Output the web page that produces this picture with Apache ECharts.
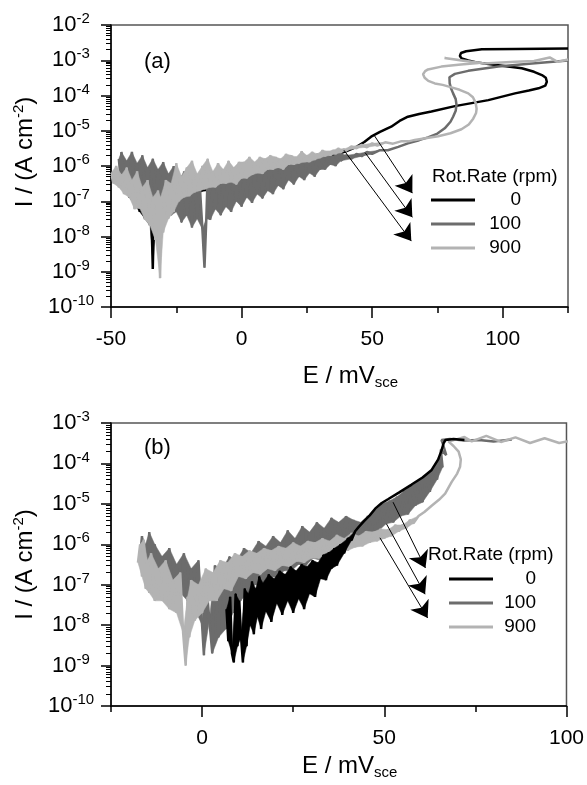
<!DOCTYPE html>
<html><head><meta charset="utf-8">
<script src="https://cdn.jsdelivr.net/npm/echarts@6/dist/echarts.min.js"></script>
<style>html,body{margin:0;padding:0;background:#fff}#c{width:587px;height:785px}</style>
</head><body><div id="c"></div>
<script>
const FONT = "'Liberation Sans', Arial, Helvetica, sans-serif";

// ---------- tick labels ----------
const xLabelTicksA = [-50, 0, 50, 100];
const xMinorTicksA = [-25, 25, 75, 125];
const xLabelTicksB = [0, 50, 100];
const xMinorTicksB = [-25, 25, 75];
const yExpLabelsA = ['-10','-9','-8','-7','-6','-5','-4','-3','-2'];
const yExpLabelsB = ['-10','-9','-8','-7','-6','-5','-4','-3'];
const rotRates = ['0', '100', '900'];
const legendTitle = 'Rot.Rate (rpm)';

// ---------- panel (a) : [E mV, I A/cm2] ----------
const a_rpm0 = [[-46,5e-7],[-45,2.5e-7],[-44,4e-7],[-43,1.3e-7],[-42,3.2e-7],[-41,8e-8],[-40,2.5e-7],[-39,5e-8],[-38,1.6e-7],[-37,3.2e-8],[-36,1.3e-7],[-35,2e-8],[-34.5,1e-7],[-34,1.2e-9],[-33.5,6.3e-8],[-33,2.5e-8],[-32,1.3e-7],[-31,4e-8],[-30,1.6e-7],[-29,6.3e-8],[-28,2e-7],[-26,1e-7],[-24,2.5e-7],[-22,1.3e-7],[-20,3.2e-7],[-18,1.6e-7],[-16,3.5e-7],[-14,2e-7],[-12,4e-7],[-10,2.5e-7],[-8,4.5e-7],[-6,3.2e-7],[-4,5e-7],[-2,3.5e-7],[0,6.3e-7],[2,4.5e-7],[4,7e-7],[6,5e-7],[8,8e-7],[10,6.3e-7],[12,9.5e-7],[14,7.6e-7],[16,1.07e-6],[18,9e-7],[20,1.2e-6],[22,1.05e-6],[24,1.4e-6],[26,1.26e-6],[28,1.6e-6],[30,1.6e-6],[33,1.9e-6],[36,2.1e-6],[40,2.6e-6],[44,3.5e-6],[47,4.8e-6],[49.6,6.8e-6],[53,9.3e-6],[57.3,1.3e-5],[60.5,1.9e-5],[63.7,2.5e-5],[68,3e-5],[72.7,3.5e-5],[81.7,5e-5],[94.5,7.4e-5],[104.7,1.15e-4],[110,1.38e-4],[113.7,1.6e-4],[116.3,1.9e-4],[116.9,2.45e-4],[116.5,3.2e-4],[115,3.8e-4],[112,4.7e-4],[107.3,5.9e-4],[94.5,7.8e-4],[90,8.7e-4],[86.8,9.8e-4],[84.3,1.12e-3],[83.6,1.32e-3],[84,1.6e-3],[86,1.8e-3],[92,2.04e-3],[105,2.1e-3],[125,2.14e-3]];

const a_rpm100 = [[-47,1.6e-6],[-46.5,6.3e-7],[-46,2.5e-6],[-45,5e-7],[-44,1.4e-6],[-43,4e-7],[-42,2.5e-6],[-41,3.2e-7],[-40,1.2e-6],[-39,2.5e-7],[-38,2e-6],[-37,1.8e-7],[-36,9e-7],[-35,1.4e-7],[-34,1.6e-6],[-33,1e-7],[-32,8e-7],[-31,6e-8],[-30,1.3e-6],[-29,6.3e-8],[-28,6e-7],[-27,4e-8],[-26,1e-6],[-25,5e-8],[-24,4e-7],[-23,2.5e-8],[-22,7e-7],[-21,4e-8],[-20,3.2e-7],[-19,1.8e-8],[-18,6e-7],[-17,3.2e-8],[-16,2.8e-7],[-15,1.6e-8],[-14.2,1.3e-9],[-13.5,3.2e-8],[-13,5e-7],[-12,3e-8],[-11,3.2e-7],[-10,6e-8],[-9,6e-7],[-8,4e-8],[-7,4e-7],[-6,7e-8],[-5,7e-7],[-4,5e-8],[-3,5e-7],[-2,1e-7],[-1,8e-7],[0,7e-8],[1,5.6e-7],[2,1.3e-7],[3,1e-6],[4,9e-8],[5,6.3e-7],[6,1.6e-7],[7,1.1e-6],[8,1.2e-7],[9,8e-7],[10,2e-7],[11,1.4e-6],[12,1.6e-7],[13,1e-6],[14,2.8e-7],[15,1.5e-6],[16,2.2e-7],[17,1.1e-6],[18,4e-7],[19,1.6e-6],[20,3e-7],[21,1.3e-6],[22,5e-7],[23,1.4e-6],[24,4e-7],[25,1.9e-6],[26,6.3e-7],[27,1.6e-6],[28,5e-7],[29,2.2e-6],[30,8e-7],[31,1.8e-6],[32,8e-7],[33,2.4e-6],[34,1.1e-6],[35,1.9e-6],[36,1e-6],[37,2.5e-6],[38,1.4e-6],[40,2e-6],[42,1.6e-6],[44,2.2e-6],[46,1.9e-6],[48,2.5e-6],[50,2.2e-6],[53,2.8e-6],[56,2.8e-6],[60,3.5e-6],[63.7,4.4e-6],[68,5.4e-6],[71.4,6.5e-6],[75,8.3e-6],[77.8,1.17e-5],[80,1.8e-5],[81,2.5e-5],[82,3.7e-5],[82.3,5.4e-5],[82,7.9e-5],[81,1.15e-4],[80.2,1.6e-4],[79.7,2.2e-4],[79.6,3.3e-4],[81.7,4.1e-4],[86.8,5e-4],[98.3,6.6e-4],[111.2,8.1e-4],[125,9.8e-4]];

const a_rpm900 = [[-50,6.3e-7],[-49,3.2e-7],[-48,1e-6],[-47,2.5e-7],[-46,5.6e-7],[-45,1.6e-7],[-44,9e-7],[-43,1.3e-7],[-42,4e-7],[-41,6e-8],[-40,7e-7],[-39,6.3e-8],[-38,2.5e-7],[-37,3e-8],[-36,4e-7],[-35,2e-8],[-34,1.3e-7],[-33,8e-9],[-32,2e-7],[-31.2,6.6e-10],[-31,1.3e-7],[-30,1.3e-8],[-29,4e-7],[-28,3.2e-8],[-27,3.2e-7],[-26,5e-8],[-25,1.2e-6],[-24,1e-7],[-23,5e-7],[-22,1.3e-7],[-21,9e-7],[-20,1.4e-7],[-19,1.4e-6],[-18,1.8e-7],[-17,6e-7],[-16,2e-7],[-15,1e-6],[-14,2.2e-7],[-13,1.6e-6],[-12,2.5e-7],[-11,7e-7],[-10,2.5e-7],[-9,1.2e-6],[-8,3.2e-7],[-7,8e-7],[-6,3.2e-7],[-5,1.4e-6],[-4,3.5e-7],[-3,9e-7],[-2,3e-7],[-1,1.3e-6],[0,4.5e-7],[1,1.3e-6],[2,4.5e-7],[3,1.8e-6],[4,5.6e-7],[5,1.3e-6],[6,6.3e-7],[7,1.8e-6],[8,6e-7],[9,1.6e-6],[10,8e-7],[11,2e-6],[12,8e-7],[13,1.8e-6],[14,9e-7],[15,1.6e-6],[16,8e-7],[17,2.2e-6],[18,1.1e-6],[19,2e-6],[20,1.1e-6],[21,1.8e-6],[22,1.2e-6],[23,2.6e-6],[24,1.3e-6],[25,2e-6],[26,1.3e-6],[27,2.5e-6],[28,1.5e-6],[29,2.2e-6],[30,1.7e-6],[31,2.8e-6],[32,1.9e-6],[33,2.6e-6],[34,2e-6],[35,2.8e-6],[36,2.2e-6],[37,3.2e-6],[38,2.4e-6],[39,3e-6],[40,2.7e-6],[42,3.6e-6],[44,3.2e-6],[46,4e-6],[48,3.4e-6],[50,4.4e-6],[52,3.8e-6],[55,4.7e-6],[58,4.3e-6],[61,5e-6],[64,5e-6],[66.3,5.5e-6],[71,6.2e-6],[75.3,7e-6],[80,8.5e-6],[84.2,1.1e-5],[87,1.5e-5],[88.7,2.2e-5],[89.8,3.2e-5],[90,4.2e-5],[89.6,6.3e-5],[88.6,8.9e-5],[86.8,1.15e-4],[83.5,1.45e-4],[80.4,1.7e-4],[77,2e-4],[74,2.2e-4],[71.5,2.6e-4],[70.1,3.2e-4],[69.5,4e-4],[70.3,4.9e-4],[71.4,5.5e-4],[76.5,6.6e-4],[84,7.6e-4],[90.8,8.3e-4],[77.7,1.15e-3],[93,8.1e-4],[104.7,9.1e-4],[112,9.5e-4],[118,1.2e-3],[121,9e-4],[125,1.05e-3]];

const a_arrows = [
  [[50.8, 7.4e-6], [65.4, 1.7e-7]],
  [[47.3, 2.4e-6], [65.4, 3.5e-8]],
  [[39.2, 2.8e-6], [65.0, 7.4e-9]]
];

// ---------- panel (b) ----------
const b_rpm0 = [[6.7,2.5e-8],[7.2,4e-9],[7.7,5e-8],[8.2,2e-9],[8.7,1.2e-9],[9.2,6e-8],[9.7,3e-9],[10.2,4e-8],[10.7,5e-9],[11.2,1.2e-9],[11.7,8e-8],[12.2,3e-9],[12.7,6e-8],[13.2,1e-8],[13.7,1.2e-7],[14.2,6e-9],[14.7,8e-8],[15.2,1.6e-8],[15.7,1.6e-7],[16.2,8e-9],[16.7,1.1e-7],[17.5,2.2e-8],[18.3,1.8e-7],[19,1.2e-8],[19.8,1.4e-7],[20.5,3.5e-8],[21.3,2.2e-7],[22,1.8e-8],[22.8,1.8e-7],[23.5,4e-8],[24.3,2.8e-7],[25,2e-8],[25.8,2.2e-7],[26.5,4.5e-8],[27.3,3.2e-7],[28,2.5e-8],[28.8,2.8e-7],[29.5,6e-8],[30.3,4e-7],[31,5e-8],[31.8,3.5e-7],[32.5,1.4e-7],[33.3,5.5e-7],[34,1.3e-7],[34.8,6.3e-7],[35.5,2.5e-7],[36.3,8e-7],[37,3e-7],[38,1e-6],[39,6e-7],[40,1.4e-6],[41,1.26e-6],[42,2.1e-6],[43,2.7e-6],[44.5,3.8e-6],[46,5.2e-6],[47.5,7.6e-6],[49.3,1.05e-5],[51,1.3e-5],[54,1.9e-5],[57.5,3e-5],[60.5,4.5e-5],[63,6.9e-5],[64.8,1.26e-4],[65.7,2.1e-4],[66.3,3.2e-4],[66.8,3.8e-4],[69,4e-4],[72,3.8e-4]];

const b_rpm100 = [[-17,5e-7],[-16.5,1.6e-6],[-16,2.5e-7],[-15.5,1e-6],[-15,2e-7],[-14.5,2e-6],[-14,1.6e-7],[-13,1e-6],[-12,1.3e-7],[-11,5e-7],[-10,1e-7],[-9,8e-7],[-8,6e-8],[-7,3.2e-7],[-6,6.3e-8],[-5,6e-7],[-4,4e-8],[-3,2.5e-7],[-2,2.5e-8],[-1,4e-7],[0,1e-8],[0.5,1.8e-9],[1,1.6e-7],[2,1.3e-8],[2.8,2e-9],[3.5,3e-7],[4.5,5e-9],[5.5,2.5e-7],[6.5,8e-9],[7.5,5e-7],[8.5,2e-8],[9.5,4e-7],[10.5,4e-8],[11.5,8e-7],[12.5,6e-8],[13.5,6.3e-7],[14.5,1e-7],[15.5,1.2e-6],[16.5,1e-7],[17.5,9e-7],[18.5,1.6e-7],[19.5,1.6e-6],[20.5,1.5e-7],[21.5,1.1e-6],[22.5,2.2e-7],[23.5,2.2e-6],[24.5,2.2e-7],[25.5,1.4e-6],[26.5,3.2e-7],[27.5,2.8e-6],[28.5,3e-7],[29.5,2e-6],[30.5,4.5e-7],[31.5,3.5e-6],[32.5,4e-7],[33.5,2.5e-6],[34.5,6.3e-7],[35.5,4.5e-6],[36.5,6e-7],[37.5,3.5e-6],[38.5,8e-7],[39.5,5e-6],[40.5,9e-7],[41.5,4e-6],[42.5,1.3e-6],[43.5,3.5e-6],[44.5,1.4e-6],[45.5,5e-6],[46.5,2e-6],[47.5,7e-6],[48.5,2.2e-6],[49.5,1e-5],[50.5,3.2e-6],[51.5,1.2e-5],[52.5,3.5e-6],[53.5,1.5e-5],[54.5,5e-6],[55.5,2.1e-5],[56.5,5.5e-6],[57.5,2.8e-5],[58.5,9e-6],[59.5,3.8e-5],[60.5,1.1e-5],[61.5,5e-5],[62.5,2e-5],[63.5,7.5e-5],[64.5,4e-5],[65,1.4e-4],[66,8e-5],[65.5,2.2e-4],[67,1.6e-4],[66,3.2e-4],[65.7,3.8e-4],[68,4e-4],[72,3.7e-4],[76,3.8e-4],[80,3.5e-4],[85,3.9e-4]];

const b_rpm900 = [[-17.6,3.5e-7],[-17,1e-6],[-16.5,1.6e-7],[-16,1.3e-6],[-15.5,8e-8],[-15,4e-7],[-14.5,6.3e-8],[-14,6e-7],[-13,4e-8],[-12,2.5e-7],[-11,4e-8],[-10,4e-7],[-9,2.5e-8],[-8,1.3e-7],[-7,2e-8],[-6,2e-7],[-5.2,6.3e-9],[-4.5,1e-9],[-4,5e-8],[-3.5,5e-9],[-3,1.3e-7],[-2,1.3e-8],[-1,1e-7],[0,2e-8],[1,2.5e-7],[2,4e-8],[3,2e-7],[4,4e-8],[5,4e-7],[6,8e-8],[7,3.5e-7],[8,7e-8],[9,6e-7],[10,1.6e-7],[11,5e-7],[12,1.4e-7],[13,7e-7],[14,2e-7],[15,6e-7],[16,1.8e-7],[17,8e-7],[18,2.5e-7],[19,7e-7],[20,2.2e-7],[21,9e-7],[22,3e-7],[23,8e-7],[24,2.8e-7],[25,1.1e-6],[26,3.8e-7],[27,9e-7],[28,3.5e-7],[29,1.2e-6],[30,4.5e-7],[31,1.1e-6],[32,4.5e-7],[33,1.4e-6],[34,5.6e-7],[35,1.2e-6],[36,5.6e-7],[37,1.7e-6],[38,6.5e-7],[39,1.4e-6],[40,7e-7],[41,1.9e-6],[42,8.5e-7],[43,1.6e-6],[44,9e-7],[45,2.1e-6],[46,1.1e-6],[47,2e-6],[48,1.2e-6],[49,2.4e-6],[50,1.4e-6],[51,2.3e-6],[52,1.6e-6],[53,3e-6],[54,2.1e-6],[55,3e-6],[56,2.5e-6],[57,4e-6],[58,3.3e-6],[59.4,5e-6],[61,6.3e-6],[63,9e-6],[65,1.26e-5],[66.7,1.8e-5],[68.5,3.5e-5],[70,5.6e-5],[70.8,8.3e-5],[71,1.26e-4],[70.4,1.95e-4],[69,2.7e-4],[67.6,3.5e-4],[70,4e-4],[72,4.5e-4],[74,3.5e-4],[78,4.8e-4],[82,3.4e-4],[86,4.4e-4],[90,3.2e-4],[94,4.2e-4],[98,3.2e-4],[101,3.6e-4]];

const b_arrows = [
  [[52.4, 1.1e-5], [61.3, 2.6e-7]],
  [[50.6, 3.2e-6], [61.2, 5.8e-8]],
  [[48.8, 1.45e-6], [61.9, 1.5e-8]]
];

// ---------- styling ----------
const COLORS = ['#000000', '#6c6c6c', '#b3b3b3'];
const Z_A = [3, 4, 5];   // panel (a): 0 rpm at the back
const Z_B = [6, 3, 4];   // panel (b): 0 rpm in front
const GRIDS = [
  {left: 111, top: 25, width: 457, height: 282},
  {left: 111, top: 423, width: 457, height: 283}
];
const chart = echarts.init(document.getElementById('c'), null, {renderer: 'canvas'});
const tickLine = {color: '#000', width: 1.5};

function yLabelFormatter(labels) {
  return function (v) {
    const e = Math.round(Math.log10(v));
    const lab = labels.find(s => Number(s) === e);
    return lab === undefined ? '' : '{b|10}{s|' + lab + '}';
  };
}
const yLabelRich = {
  b: {fontSize: 22, fontFamily: FONT, color: '#000'},
  s: {fontSize: 15, fontFamily: FONT, color: '#000', padding: [0, 0, 12, 0]}
};
const xNameRich = {
  m: {fontSize: 24, fontFamily: FONT, color: '#000'},
  s: {fontSize: 15, fontFamily: FONT, color: '#000', padding: [12, 0, 0, 0]}
};
const yNameRich = {
  m: {fontSize: 24, fontFamily: FONT, color: '#000'},
  s: {fontSize: 15, fontFamily: FONT, color: '#000', padding: [0, 0, 12, 0]}
};

function mainX(grid, min, max, labels, gap) {
  return {
    type: 'value', gridIndex: grid, position: 'bottom', min: min, max: max,
    axisLine: {show: true, onZero: false, lineStyle: tickLine},
    axisTick: {show: true, customValues: labels, length: 11, lineStyle: tickLine},
    axisLabel: {show: true, customValues: labels, margin: 22, fontSize: 21, fontFamily: FONT, color: '#000'},
    splitLine: {show: false},
    name: '{m|E / mV}{s|sce}', nameLocation: 'middle', nameGap: gap,
    nameTextStyle: {rich: xNameRich, padding: [0, 0, 0, 22]}
  };
}
function mainY(grid, min, max, labels, padShift) {
  return {
    type: 'log', logBase: 10, gridIndex: grid, position: 'left', min: min, max: max,
    axisLine: {show: true, onZero: false, lineStyle: tickLine},
    axisTick: {show: true, length: 10, lineStyle: tickLine},
    minorTick: {show: true, splitNumber: 9, length: 5, lineStyle: {color: '#000', width: 1}},
    axisLabel: {show: true, formatter: yLabelFormatter(labels), rich: yLabelRich, align: 'center', margin: 40,
                showMinLabel: true, showMaxLabel: true},
    splitLine: {show: false},
    name: '{m|I / (A cm}{s|-2}{m|)}', nameLocation: 'middle', nameRotate: 90, nameGap: 72,
    nameTextStyle: {rich: yNameRich, padding: [0, 0, 0, padShift]}
  };
}

function curve(name, data, ai, color, z) {
  return {
    type: 'line', name: name, data: data, xAxisIndex: ai, yAxisIndex: ai,
    showSymbol: false, symbol: 'none', smooth: false, animation: false,
    lineStyle: {color: color, width: 2.5}, itemStyle: {color: color}, z: z
  };
}
// fills the gaps between successive zig-zag samples of a noisy scan (solid noise band)
function band(name, data, ai, color, z) {
  return {
    type: 'custom', name: name, data: data, xAxisIndex: ai, yAxisIndex: ai,
    encode: {x: 0, y: 1}, z: z, silent: true, animation: false, clip: true,
    renderItem: function (params, api) {
      const i = params.dataIndex;
      if (i + 2 >= data.length) return null;
      const p0 = data[i], p1 = data[i + 1], p2 = data[i + 2];
      if (!(p0[0] < p1[0] && p1[0] < p2[0]) || p2[0] - p0[0] > 5) return null;
      const l0 = Math.log10(p0[1]), l1 = Math.log10(p1[1]), l2 = Math.log10(p2[1]);
      if ((l1 - l0) * (l1 - l2) <= 0) return null;
      return {type: 'polygon', shape: {points: [api.coord(p0), api.coord(p1), api.coord(p2)]},
              style: {fill: color, stroke: color, lineWidth: 0.5}};
    }
  };
}
function arrows(data, ai) {
  return {
    type: 'lines', coordinateSystem: 'cartesian2d', xAxisIndex: ai, yAxisIndex: ai,
    data: data.map(p => ({coords: p})), symbol: ['none', 'arrow'], symbolSize: [9, 16],
    lineStyle: {color: '#000', width: 1, opacity: 1}, itemStyle: {color: '#000'},
    animation: false, silent: true, z: 10
  };
}
// short unlabeled ticks (log-spaced on y), drawn through the axes' scales
function tickLines(ai, xMin, xMax, loExp, hiExp, xMinor) {
  const g = GRIDS[ai];
  const dx = 5 * (xMax - xMin) / g.width;
  const dyFactor = Math.pow(10, 6 * (hiExp - loExp) / g.height);
  const yMin = Math.pow(10, loExp);
  const segs = [];
  for (let n = loExp; n < hiExp; n++) for (let k = 2; k <= 9; k++) {
    const v = k * Math.pow(10, n);
    segs.push({coords: [[xMin - dx, v], [xMin, v]], lineStyle: {width: 1}});
  }
  xMinor.forEach(v => segs.push({coords: [[v, yMin], [v, yMin / dyFactor]], lineStyle: {width: 1.5}}));
  return {
    type: 'lines', coordinateSystem: 'cartesian2d', xAxisIndex: ai, yAxisIndex: ai, data: segs,
    symbol: ['none', 'none'], lineStyle: {color: '#000', opacity: 1}, clip: false,
    animation: false, silent: true, z: 20
  };
}

function legendGraphics(titleX, titleY, lineX1, lineX2, labelX, rowY) {
  const g = [{type: 'text', x: titleX, y: titleY, style: {text: legendTitle, fontSize: 19, fontFamily: FONT, fill: '#000', align: 'left', verticalAlign: 'middle'}}];
  rotRates.forEach((r, i) => {
    g.push({type: 'line', shape: {x1: lineX1, y1: rowY[i], x2: lineX2, y2: rowY[i]}, style: {stroke: COLORS[i], lineWidth: 3}});
    g.push({type: 'text', x: labelX, y: rowY[i], style: {text: r, fontSize: 19, fontFamily: FONT, fill: '#000', align: 'right', verticalAlign: 'middle'}});
  });
  return g;
}

const series = [];
[[a_rpm0, a_rpm100, a_rpm900, 0, Z_A], [b_rpm0, b_rpm100, b_rpm900, 1, Z_B]].forEach(function (panel) {
  const ai = panel[3], zs = panel[4];
  for (let i = 0; i < 3; i++) {
    series.push(band(rotRates[i], panel[i], ai, COLORS[i], zs[i]));
    series.push(curve(rotRates[i], panel[i], ai, COLORS[i], zs[i]));
  }
});
series.push(arrows(a_arrows, 0));
series.push(arrows(b_arrows, 1));
series.push(tickLines(0, -50, 125, -10, -2, xMinorTicksA));
series.push(tickLines(1, -25, 100, -10, -3, xMinorTicksB));

const option = {
  animation: false,
  grid: GRIDS.map(g => Object.assign({show: true, borderColor: '#555', borderWidth: 1.5}, g)),
  xAxis: [
    mainX(0, -50, 125, xLabelTicksA, 56),
    mainX(1, -25, 100, xLabelTicksB, 47)
  ],
  yAxis: [
    mainY(0, 1e-10, 1e-2, yExpLabelsA, 28),
    mainY(1, 1e-10, 1e-3, yExpLabelsB, 0)
  ],
  series: series,
  graphic: [
    {type: 'text', x: 144, y: 62, style: {text: '(a)', fontSize: 22, fontFamily: FONT, fill: '#000', verticalAlign: 'middle'}},
    {type: 'text', x: 144, y: 448, style: {text: '(b)', fontSize: 22, fontFamily: FONT, fill: '#000', verticalAlign: 'middle'}}
  ].concat(legendGraphics(432, 177, 431, 475, 521, [200, 224, 248]))
   .concat(legendGraphics(428, 555, 449, 493, 536, [579, 603, 627]))
};
chart.setOption(option);
</script>
</body></html>
